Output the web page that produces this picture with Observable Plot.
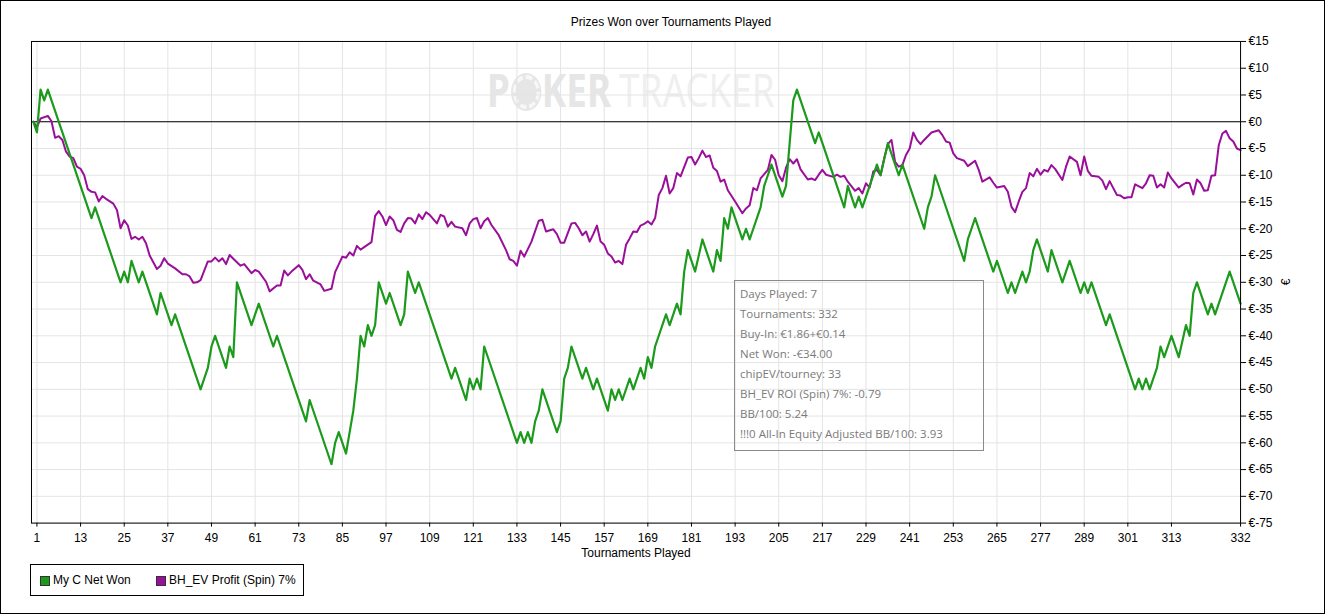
<!DOCTYPE html>
<html>
<head>
<meta charset="utf-8">
<script src="https://cdn.jsdelivr.net/npm/d3@7"></script>
<script src="https://cdn.jsdelivr.net/npm/@observablehq/plot@0.6"></script>
<style>
  html, body { margin: 0; padding: 0; background: #fff; }
  #wrap { position: relative; width: 1325px; height: 614px; box-sizing: border-box; border: 1px solid #000; overflow: hidden; font-family: "Liberation Sans", Arial, sans-serif; font-size: 12px; color: #000; }
  #chart { position: absolute; left: -1px; top: -1px; z-index: 2; }
  .abs { position: absolute; white-space: nowrap; }
  #title { left: 0; width: 1340px; top: 14px; text-align: center; }
  #xlabel { left: 30px; width: 1210px; top: 545px; text-align: center; }
  #ylabel { left: 1282px; top: 274px; transform: rotate(-90deg); font-size: 12px; }
  #wm { left: 486px; top: 63px; z-index: 1; font-family: "Noto Sans", sans-serif; font-size: 46px; line-height: 50px; transform: scaleX(0.8); transform-origin: left top; }
  #wm .p { color: #e6e6e6; font-weight: 700; }
  #wm .t { color: #efefef; font-weight: 400; margin-left: 10px; }
  #wm .chip { display: inline-block; width: 34px; height: 34px; border-radius: 50%; background: #e6e6e6; border: 4px dashed #f7f7f7; box-sizing: border-box; box-shadow: 0 0 0 2px #e6e6e6, inset 0 0 0 4px #e6e6e6; vertical-align: -2px; margin: 0 3px; }
  #tip { left: 733px; top: 279px; width: 250px; height: 171px; box-sizing: border-box; border: 1px solid #8a8a8a; z-index: 3; font-family: "Open Sans", "Noto Sans", sans-serif; font-size: 11.5px; color: #7a7a7a; padding: 3px 0 0 5px; line-height: 20px; }
  #legend { left: 29px; top: 563px; width: 274px; height: 32px; box-sizing: border-box; border: 1px solid #000; z-index: 3; }
  .sw { position: absolute; top: 11px; width: 8px; height: 8px; border: 1px solid #333; box-sizing: content-box; }
  .lt { position: absolute; top: 8px; }
</style>
</head>
<body>
<div id="wrap">
  <div id="wm" class="abs"><span class="p">P<span class="chip"></span>KER</span><span class="t">TRACKER</span></div>
  <div id="chart"></div>
  <div id="title" class="abs"></div>
  <div id="xlabel" class="abs"></div>
  <div id="ylabel" class="abs">€</div>
  <div id="tip" class="abs"></div>
  <div id="legend" class="abs"></div>
</div>
<script>
// ---- Data ----
const titleText = "Prizes Won over Tournaments Played";
const xLabelText = "Tournaments Played";
const seriesNames = ["My C Net Won", "BH_EV Profit (Spin) 7%"];
const seriesColors = ["#1c9a1c", "#9a0f9a"];

const xTicks = [1, 13, 25, 37, 49, 61, 73, 85, 97, 109, 121, 133, 145, 157, 169, 181, 193, 205, 217, 229, 241, 253, 265, 277, 289, 301, 313, 332];
const yTicks = [15, 10, 5, 0, -5, -10, -15, -20, -25, -30, -35, -40, -45, -50, -55, -60, -65, -70, -75];

// Net won (vertices of the cumulative line)
const netT = [0,1,2,3,4,16,17,24,25,26,27,29,30,34,35,38,39,46,47,48,49,50,53,54,55,56,60,61,62,66,67,75,76,82,83,84,86,87,88,89,90,91,92,93,94,95,97,98,101,102,103,105,106,115,116,119,120,121,122,123,124,133,134,135,136,137,138,139,140,144,145,146,147,148,151,152,154,155,158,159,160,161,162,164,165,167,168,169,170,171,174,175,177,178,179,180,182,184,187,188,189,190,191,192,195,196,197,198,199,200,201,202,203,206,207,208,209,210,215,216,223,224,226,227,228,230,232,233,235,238,239,245,246,247,248,256,257,258,259,264,265,268,269,270,272,273,274,275,276,279,280,283,284,285,288,289,290,291,295,296,303,304,305,306,307,309,310,311,313,315,317,318,319,320,323,324,325,329,332];
const netV = [0,-2,6,4,6,-18,-16,-30,-28,-30,-26,-30,-28,-36,-32,-38,-36,-50,-48,-46,-42,-40,-46,-42,-44,-30,-38,-36,-34,-42,-40,-56,-52,-64,-60,-58,-62,-58,-54,-48,-40,-42,-38,-40,-38,-30,-34,-32,-38,-36,-28,-32,-30,-48,-46,-52,-48,-50,-48,-50,-42,-60,-58,-60,-58,-60,-56,-54,-50,-58,-56,-48,-46,-42,-48,-46,-50,-48,-54,-50,-52,-50,-52,-48,-50,-46,-48,-44,-46,-42,-36,-38,-34,-36,-28,-24,-28,-22,-28,-24,-26,-18,-20,-16,-22,-20,-22,-20,-18,-16,-12,-10,-8,-14,-12,-4,4,6,-4,-2,-16,-12,-16,-14,-16,-12,-8,-10,-4,-10,-8,-20,-16,-14,-10,-26,-22,-20,-18,-28,-26,-32,-30,-32,-28,-30,-28,-24,-22,-28,-24,-30,-28,-26,-32,-30,-32,-30,-38,-36,-50,-48,-50,-48,-50,-46,-42,-44,-40,-44,-38,-40,-32,-30,-36,-34,-36,-28,-34];

// BH_EV profit
const evT = [0,1,2,4,5,6,7,8,9,10,11,12,13,14,15,16,17,18,19,20,22,23,24,25,26,27,28,29,30,31,32,34,35,36,37,39,41,42,43,44,45,46,48,49,50,51,52,53,54,55,57,58,60,61,62,64,65,67,68,69,70,71,73,74,75,76,77,79,80,82,83,85,86,87,88,89,90,93,94,95,96,97,98,99,100,101,102,103,104,105,106,107,108,109,111,112,113,114,115,116,118,119,120,121,122,123,124,125,126,128,130,131,132,133,134,135,137,139,140,141,143,144,145,146,148,149,150,151,152,153,154,155,156,157,158,159,160,161,162,163,164,165,166,167,168,169,170,171,172,173,174,175,176,177,178,180,181,182,183,184,185,186,187,188,189,190,191,193,195,196,197,198,199,200,202,203,204,205,206,207,208,209,210,211,213,214,215,216,217,218,220,221,222,223,224,226,227,228,229,230,231,232,233,234,235,236,237,238,239,240,241,242,243,244,245,247,249,250,251,252,253,254,256,257,259,260,261,263,264,265,267,268,269,270,271,272,273,274,275,276,277,278,279,280,281,283,284,285,287,288,289,290,291,293,294,295,296,297,298,299,300,301,302,303,305,306,307,308,309,310,311,312,313,315,316,317,318,319,320,321,322,323,324,325,326,327,328,329,330,331,332];
const evV = [0,-1,0.6,1.1,0.1,-3.0,-2.7,-3.4,-5.6,-6.5,-6.8,-8.4,-8.8,-10.0,-12.6,-13.1,-13.2,-14.9,-13.9,-14.4,-15.3,-16.5,-19.9,-18.4,-19.4,-21.9,-21.5,-22.0,-21.5,-22.7,-25.0,-27.5,-26.9,-25.5,-26.5,-27.4,-28.5,-28.5,-28.9,-30.1,-30.0,-29.6,-26.1,-26.1,-25.4,-26.1,-25.5,-26.6,-24.9,-25.6,-26.9,-26.6,-28.3,-27.7,-28.0,-29.9,-31.7,-30.6,-30.6,-27.8,-28.7,-28.0,-26.8,-27.7,-29.4,-28.5,-29.7,-30.4,-31.6,-31.2,-28.1,-25.2,-25.4,-24.4,-25.0,-23.2,-23.9,-22.5,-17.6,-16.7,-17.7,-19.3,-17.7,-18.4,-20.2,-20.6,-19.0,-18.0,-18.1,-19.0,-17.3,-18.2,-16.9,-17.4,-19.0,-17.4,-17.7,-19.6,-18.7,-19.6,-19.9,-21.2,-19.0,-18.2,-18.0,-19.9,-18.6,-18.0,-19.3,-21.2,-24.0,-25.7,-26.0,-26.9,-24.1,-25.2,-22.4,-18.5,-18.3,-20.5,-20.1,-21.0,-22.6,-22.6,-19.0,-18.9,-19.9,-21.2,-20.5,-22.4,-21.0,-19.4,-22.4,-23.0,-24.6,-25.2,-26.3,-26.0,-26.6,-23.0,-21.8,-20.5,-20.6,-19.4,-19.1,-18.6,-19.2,-18.0,-13.7,-12.4,-10.1,-13.4,-12.4,-9.6,-10.2,-6.7,-6.6,-8.0,-6.8,-5.4,-6.6,-6.3,-8.6,-9.2,-11.2,-10.8,-12.8,-14.9,-17.1,-16.2,-15.6,-12.4,-12.8,-10.6,-9.0,-6.2,-7.1,-10.0,-11.1,-8.6,-7.0,-7.8,-7.0,-8.9,-10.8,-10.6,-10.9,-9.9,-9.0,-9.9,-10.3,-9.9,-10.3,-10.1,-11.2,-12.9,-12.4,-13.4,-11.5,-12.3,-9.3,-9.0,-10.0,-6.8,-4.2,-3.4,-7.5,-8.4,-8.1,-6.2,-5.0,-2.0,-3.4,-4.2,-3.4,-2.0,-1.6,-2.5,-3.7,-3.9,-5.9,-6.8,-7.3,-8.3,-7.3,-9.0,-11.2,-10.4,-11.4,-12.3,-12.0,-13.1,-15.9,-16.9,-14.9,-13.1,-12.4,-9.6,-10.2,-8.8,-9.9,-9.0,-9.3,-8.1,-8.8,-10.9,-8.4,-6.5,-7.5,-10.0,-6.5,-9.2,-10.1,-10.3,-11.0,-12.6,-11.1,-12.4,-13.7,-13.8,-14.3,-14.1,-14.1,-11.7,-12.4,-11.5,-10.0,-10.1,-12.3,-11.7,-12.3,-9.5,-10.6,-12.3,-11.8,-11.4,-11.5,-13.6,-10.8,-11.5,-12.9,-12.8,-10.1,-10.0,-4.4,-2.2,-1.7,-3.1,-3.7,-5.0,-5.3];

const tipLines = ["Days Played: 7", "Tournaments: 332", "Buy-In: €1.86+€0.14", "Net Won: -€34.00", "chipEV/tourney: 33", "BH_EV ROI (Spin) 7%: -0.79", "BB/100: 5.24", "!!!0 All-In Equity Adjusted BB/100: 3.93"];

// ---- Build ----
const netData = netT.map((t, i) => ({t, v: netV[i]}));
const evData = evT.map((t, i) => ({t, v: evV[i]}));
const euro = d => d < 0 ? "€-" + Math.abs(d) : "€" + d;

const plot = Plot.plot({
  width: 1325,
  height: 614,
  marginLeft: 31,
  marginRight: 84,
  marginTop: 41,
  marginBottom: 91,
  style: {background: "transparent", fontFamily: "Liberation Sans, Arial, sans-serif", fontSize: "12px", color: "#000", overflow: "visible"},
  x: {domain: [-0.5, 332], label: null},
  y: {domain: [-75, 15], label: null},
  marks: [
    Plot.gridX(xTicks, {stroke: "#e4e4e4", strokeOpacity: 1}),
    Plot.gridY(yTicks, {stroke: "#e4e4e4", strokeOpacity: 1}),
    Plot.ruleY([0], {stroke: "#000", strokeWidth: 1}),
    Plot.line(evData, {x: "t", y: "v", stroke: seriesColors[1], strokeWidth: 2, curve: "linear"}),
    Plot.line(netData, {x: "t", y: "v", stroke: seriesColors[0], strokeWidth: 2.2, curve: "linear"}),
    Plot.frame({stroke: "#000", strokeWidth: 1}),
    Plot.axisX(xTicks, {anchor: "bottom", tickSize: 4, tickPadding: 6, fill: "#000", stroke: "#000", label: null}),
    Plot.axisY(yTicks, {anchor: "right", tickSize: 5, tickPadding: 3, tickFormat: euro, fill: "#000", stroke: "#000", label: null})
  ]
});
document.getElementById("chart").appendChild(plot);

document.getElementById("title").textContent = titleText;
document.getElementById("xlabel").textContent = xLabelText;
document.getElementById("tip").innerHTML = tipLines.map(s => `<div>${s}</div>`).join("");
const legend = document.getElementById("legend");
const swX = [9, 125];
seriesNames.forEach((name, i) => {
  const sw = document.createElement("div");
  sw.className = "sw";
  sw.style.left = swX[i] + "px";
  sw.style.background = seriesColors[i];
  legend.appendChild(sw);
  const lt = document.createElement("div");
  lt.className = "lt";
  lt.style.left = (swX[i] + 13) + "px";
  lt.textContent = name;
  legend.appendChild(lt);
});
</script>
</body>
</html>
